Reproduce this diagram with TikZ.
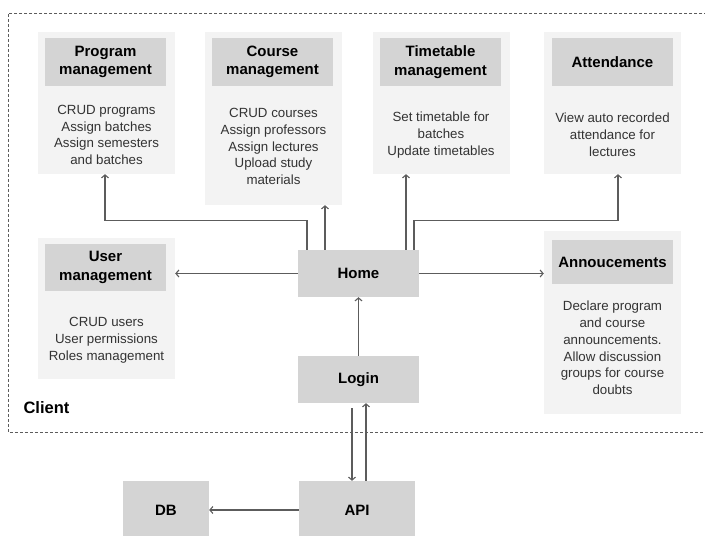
\documentclass[tikz,border=0pt]{standalone}
\usepackage{fontspec}
\setmainfont{Liberation Sans}
\usetikzlibrary{arrows.meta}
\definecolor{panelgray}{HTML}{F3F3F3}
\definecolor{boxgray}{HTML}{D4D4D4}
\definecolor{linegray}{HTML}{5C5C5C}
\definecolor{textgray}{HTML}{333333}
\tikzset{
  panel/.style={fill=panelgray, inner sep=0pt, minimum width=137pt},
  header/.style={fill=boxgray, inner sep=0pt, minimum width=121pt, minimum height=48pt, align=center, font=\fontsize{15}{18.5}\selectfont\bfseries},
  body/.style={align=center, text=textgray, font=\fontsize{13.3}{16.8}\selectfont},
  block/.style={fill=boxgray, inner sep=0pt, minimum width=121pt, minimum height=47pt, font=\fontsize{15}{18}\selectfont\bfseries},
  flow/.style={draw=linegray, line width=1.1pt, -{Straight Barb[length=3pt,width=7pt]}},
}
\begin{document}
\begin{tikzpicture}[x=1pt,y=-1pt]
            \useasboundingbox (0,0) rectangle (705,536);
            
            % Drawing client frame
            \draw [linegray, line width=0.9pt, dash pattern=on 3pt off 2pt] (712,13) -- (8,13) -- (8,432) -- (712,432);%
            \node [anchor=west, font=\fontsize{16.5}{18}\selectfont\bfseries] (client) at (20,408) {Client};%
            
            % Marking program panel
            \node [panel, minimum height=142pt] (prog) at (106.5,103) {};%
            \node [header] (progT) at (105.5,62) {Program\\management};%
            \node [body] (progB) at (106.5,135) {CRUD programs\\Assign batches\\Assign semesters\\and batches};%
            
            % Marking course panel
            \node [panel, minimum height=173pt] (course) at (273.5,118.5) {};%
            \node [header] (courseT) at (272.5,62) {Course\\management};%
            \node [body] (courseB) at (273.5,146.5) {CRUD courses\\Assign professors\\Assign lectures\\Upload study\\materials};%
            
            % Marking timetable panel
            \node [panel, minimum height=142pt] (time) at (441,103) {};%
            \node [header] (timeT) at (440.5,62) {Timetable\\management};%
            \node [body] (timeB) at (441,135) {Set timetable for\\batches\\Update timetables};%
            
            % Marking attendance panel
            \node [panel, minimum height=142pt] (att) at (612.5,103) {};%
            \node [header] (attT) at (612.5,62) {Attendance};%
            \node [body] (attB) at (612.5,135) {View auto recorded\\attendance for\\lectures};%
            
            % Marking user panel
            \node [panel, minimum height=141pt] (user) at (106.5,308.5) {};%
            \node [header, minimum height=47pt] (userT) at (105.5,267.5) {User\\management};%
            \node [body] (userB) at (106.5,340) {CRUD users\\User permissions\\Roles management};%
            
            % Marking announcement panel
            \node [panel, minimum height=183pt] (ann) at (612.5,322.5) {};%
            \node [header, minimum height=44pt] (annT) at (612.5,262) {Annoucements};%
            \node [body] (annB) at (612.5,348) {Declare program\\and course\\announcements.\\Allow discussion\\groups for course\\doubts};%
            
            % Marking blocks
            \node [block] (home) at (358.5,273.5) {Home};%
            \node [block] (login) at (358.5,379.5) {Login};%
            \node [block, minimum width=116pt, minimum height=58pt] (api) at (357,510) {API};%
            \node [block, minimum width=86pt, minimum height=58pt] (db) at (166,510) {DB};%
            
            % Drawing links from home
            \coordinate (hp) at ([xshift=-51.5pt]home.north);%
            \coordinate (hc) at ([xshift=-33.5pt]home.north);%
            \coordinate (ht) at ([xshift=47.5pt]home.north);%
            \coordinate (ha) at ([xshift=55.5pt]home.north);%
            \draw [flow] (hp) |- ([xshift=-1.5pt,yshift=-46pt]prog.south) -- ([xshift=-1.5pt]prog.south);%
            \draw [flow] (hc) -- (hc |- course.south);%
            \draw [flow] (ht) -- (ht |- time.south);%
            \draw [flow] (ha) |- ([xshift=5.5pt,yshift=-46pt]att.south) -- ([xshift=5.5pt]att.south);%
            \draw [flow] (home.west) -- (home.west -| user.east);%
            \draw [flow] (home.east) -- (home.east -| ann.west);%
            
            % Drawing links below home
            \draw [flow] (login.north) -- (home.south);%
            \coordinate (ld) at ([xshift=-6.5pt,yshift=-5pt]login.south);%
            \coordinate (lu) at ([xshift=7.5pt]login.south);%
            \draw [flow] (ld) -- (ld |- api.north);%
            \draw [flow] (lu |- api.north) -- (lu);%
            \draw [flow] (api.west) -- (db.east);%
        \end{tikzpicture}
\end{document}
